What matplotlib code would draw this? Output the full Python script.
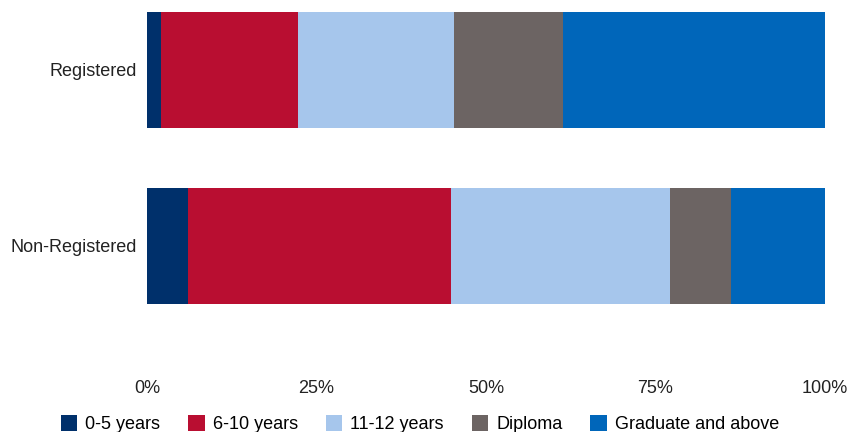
import matplotlib
matplotlib.use("Agg")
import matplotlib.pyplot as plt
from matplotlib.patches import Patch

groups = ["Registered", "Non-Registered"]
levels = ["0-5 years", "6-10 years", "11-12 years", "Diploma", "Graduate and above"]
registered = [2.1, 20.2, 23.0, 16.1, 38.6]
non_registered = [6.0, 38.8, 32.3, 9.1, 13.8]
colors = ["#00306B", "#B90E31", "#A6C6EC", "#6C6463", "#0066BA"]
x_ticks = [0, 25, 50, 75, 100]
x_tick_labels = ["0%", "25%", "50%", "75%", "100%"]

plt.rcParams["font.family"] = ["Liberation Sans", "DejaVu Sans"]

W, H = 850, 432
fig = plt.figure(figsize=(W / 100, H / 100), dpi=100)
ax = fig.add_axes([147 / W, 1 - 370 / H, (825 - 147) / W, 370 / H])

rows = [registered, non_registered]
ypos = list(range(len(groups)))
for y, vals in zip(ypos, rows):
    left = 0.0
    for v, c in zip(vals, colors):
        ax.barh(y, v, left=left, height=0.66, color=c, linewidth=0)
        left += v

ax.set_xlim(0, 100)
ax.set_ylim(1.7065, -0.398)
ax.set_yticks(ypos)
ax.set_yticklabels(groups, fontsize=13, color="#222222")
ax.set_xticks(x_ticks)
ax.set_xticklabels(x_tick_labels, fontsize=13, color="#222222")
ax.tick_params(axis="both", length=0)
ax.tick_params(axis="x", pad=7)
ax.tick_params(axis="y", pad=7)
for s in ax.spines.values():
    s.set_visible(False)

handles = [Patch(facecolor=c, edgecolor="none", label=l) for c, l in zip(colors, levels)]
fig.legend(handles=handles, loc="lower center", bbox_to_anchor=(420 / W, -0.02),
           ncol=5, frameon=False, fontsize=13, handlelength=0.9, handleheight=0.95,
           handletextpad=0.45, columnspacing=1.55, borderaxespad=0)

fig.savefig("out.png", dpi=100)
